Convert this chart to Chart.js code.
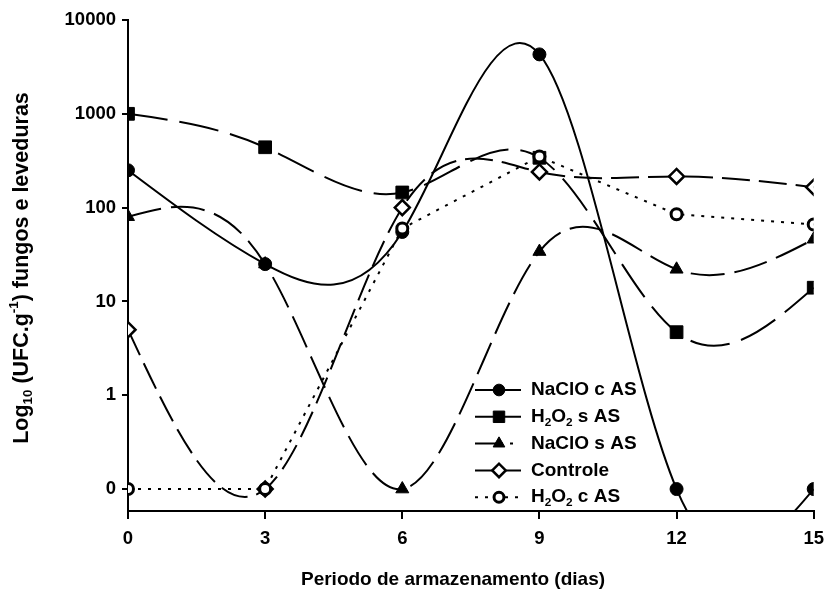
<!DOCTYPE html>
<html>
<head>
<meta charset="utf-8">
<script src="https://cdn.jsdelivr.net/npm/chart.js@4.4.0/dist/chart.umd.min.js"></script>
<style>
body { margin: 0; background: #fff; }
</style>
</head>
<body>
<canvas id="fungosChart" width="833" height="592"></canvas>
<script>
// storage days and UFC/g (0 = not detected)
var dias = [0, 3, 6, 9, 12, 15];
var naclo_c_as = [250, 25, 55, 4300, 0, 0];
var h2o2_s_as = [1000, 440, 145, 340, 4.7, 14];
var naclo_s_as = [80, 25, 0, 34, 22, 46];
var controle = [5, 0, 100, 240, 215, 165];
var h2o2_c_as = [0, 0, 60, 350, 85, 66];

var yTickPos = [-1, 0, 1, 2, 3, 4];
var yTickLabels = ['0', '1', '10', '100', '1000', '10000'];
var xTicks = [0, 3, 6, 9, 12, 15];

var FONT = '"Liberation Sans", Arial, sans-serif';

// log10 scale, zero counts drawn on the lowest line
function toLog(v) { return v > 0 ? Math.log10(v) : -1; }
function pts(values) {
    return dias.map(function (d, i) { return { x: d, y: toLog(values[i]) }; });
}

function serie(label, values, opts) {
    var ds = {
        label: label,
        data: pts(values),
        borderColor: '#000',
        borderWidth: 2,
        tension: 0.4,
        pointBorderColor: '#000',
        pointBackgroundColor: '#000',
        pointBorderWidth: 1,
        fill: false
    };
    for (var k in opts) ds[k] = opts[k];
    return ds;
}

var datasets = [
    serie('NaClO c AS', naclo_c_as, { pointStyle: 'circle', pointRadius: 6.5, legendDash: [] }),
    serie('H2O2 s AS', h2o2_s_as, { borderDash: [40, 12], pointStyle: 'rect', pointRadius: 9, legendDash: [] }),
    serie('NaClO s AS', naclo_s_as, { borderDash: [34, 10], pointStyle: 'triangle', pointRadius: 7.5, legendDash: [28, 7, 3, 40] }),
    serie('Controle', controle, { borderDash: [28, 9], pointStyle: 'rectRot', pointRadius: 7.5, pointBackgroundColor: '#fff', pointBorderWidth: 2.5, legendDash: [] }),
    serie('H2O2 c AS', h2o2_c_as, { order: -1, tension: 0, borderDash: [3, 7], pointStyle: 'circle', pointRadius: 5.5, pointBackgroundColor: '#fff', pointBorderWidth: 3, legendDash: [3, 7] })
];

// natural cubic spline through the point elements, written as bezier control points
function naturalSpline(points) {
    var n = points.length, i;
    if (n < 3) return;
    var h = [];
    for (i = 0; i < n - 1; i++) h.push(points[i + 1].x - points[i].x);
    var a = [], b = [], c = [], d = [];
    for (i = 1; i < n - 1; i++) {
        a.push(h[i - 1]);
        b.push(2 * (h[i - 1] + h[i]));
        c.push(h[i]);
        d.push(6 * ((points[i + 1].y - points[i].y) / h[i] - (points[i].y - points[i - 1].y) / h[i - 1]));
    }
    var m = n - 2;
    for (i = 1; i < m; i++) {
        var w = a[i] / b[i - 1];
        b[i] -= w * c[i - 1];
        d[i] -= w * d[i - 1];
    }
    var M = [];
    for (i = 0; i < n; i++) M.push(0);
    for (i = m - 1; i >= 0; i--) {
        M[i + 1] = (d[i] - (i < m - 1 ? c[i] * M[i + 2] : 0)) / b[i];
    }
    for (i = 0; i < n - 1; i++) {
        var p0 = points[i], p1 = points[i + 1], hi = h[i];
        var sl = (p1.y - p0.y) / hi;
        var s0 = sl - hi * (2 * M[i] + M[i + 1]) / 6;
        var s1 = sl + hi * (M[i] + 2 * M[i + 1]) / 6;
        p0.cp2x = p0.x + hi / 3;
        p0.cp2y = p0.y + s0 * hi / 3;
        p1.cp1x = p1.x - hi / 3;
        p1.cp1y = p1.y - s1 * hi / 3;
    }
    points[0].cp1x = points[0].x; points[0].cp1y = points[0].y;
    points[n - 1].cp2x = points[n - 1].x; points[n - 1].cp2y = points[n - 1].y;
}

var splinePlugin = {
    id: 'splinePlugin',
    beforeDatasetsDraw: function (chart) {
        chart.data.datasets.forEach(function (ds, k) {
            if (!ds.tension) return;
            var meta = chart.getDatasetMeta(k);
            naturalSpline(meta.data);
            meta.dataset._pointsUpdated = true;
            meta.dataset._path = undefined;
        });
    }
};

// text with sub/superscripts: parts = [[text, null|'sub'|'sup'], ...]
function drawRich(ctx, parts, x, y, size, align) {
    var small = size * 0.62;
    var w = 0;
    parts.forEach(function (p) {
        ctx.font = 'bold ' + (p[1] ? small : size) + 'px ' + FONT;
        w += ctx.measureText(p[0]).width;
    });
    var cx = align === 'center' ? x - w / 2 : x;
    parts.forEach(function (p) {
        ctx.font = 'bold ' + (p[1] ? small : size) + 'px ' + FONT;
        var dy = p[1] === 'sub' ? size * 0.3 : (p[1] === 'sup' ? -size * 0.36 : 0);
        ctx.fillText(p[0], cx, y + dy);
        cx += ctx.measureText(p[0]).width;
    });
}

var legendText = [
    [['NaClO c AS', null]],
    [['H', null], ['2', 'sub'], ['O', null], ['2', 'sub'], [' s AS', null]],
    [['NaClO s AS', null]],
    [['Controle', null]],
    [['H', null], ['2', 'sub'], ['O', null], ['2', 'sub'], [' c AS', null]]
];

var extras = {
    id: 'extras',
    afterDraw: function (chart) {
        var ctx = chart.ctx;
        ctx.save();
        ctx.fillStyle = '#000';
        ctx.textBaseline = 'middle';

        // x title
        drawRich(ctx, [['Periodo de armazenamento (dias)', null]], 453, 580, 19, 'center');

        // y title
        ctx.save();
        ctx.translate(22, 268);
        ctx.rotate(-Math.PI / 2);
        drawRich(ctx, [['Log', null], ['10', 'sub'], [' (UFC.g', null], ['-1', 'sup'], [') fungos e leveduras', null]], 0, 0, 21.5, 'center');
        ctx.restore();

        // legend
        datasets.forEach(function (ds, i) {
            var y = 390 + i * 26.8;
            ctx.save();
            ctx.strokeStyle = '#000';
            ctx.lineWidth = 2;
            ctx.setLineDash(ds.legendDash);
            ctx.beginPath();
            ctx.moveTo(475, y);
            ctx.lineTo(521, y);
            ctx.stroke();
            ctx.setLineDash([]);
            ctx.fillStyle = ds.pointBackgroundColor;
            ctx.strokeStyle = '#000';
            ctx.lineWidth = ds.pointBorderWidth;
            Chart.helpers.drawPoint(ctx, { pointStyle: ds.pointStyle, radius: ds.pointRadius * 0.9, borderWidth: ds.pointBorderWidth, rotation: 0 }, 499, y);
            ctx.restore();
            ctx.fillStyle = '#000';
            drawRich(ctx, legendText[i], 531, y, 19, 'left');
        });
        ctx.restore();
    }
};

var ctx_fungos = document.getElementById('fungosChart').getContext('2d');
var chart_fungos = new Chart(ctx_fungos, {
    type: 'line',
    data: { datasets: datasets },
    plugins: [splinePlugin, extras],
    options: {
        responsive: false,
        animation: false,
        devicePixelRatio: 1,
        layout: { padding: { top: 20, right: 18, left: 0, bottom: 0 } },
        plugins: {
            legend: { display: false },
            tooltip: { enabled: false }
        },
        scales: {
            x: {
                type: 'linear',
                min: 0,
                max: 15,
                afterFit: function (s) { s.height = 81; },
                afterBuildTicks: function (s) { s.ticks = xTicks.map(function (v) { return { value: v }; }); },
                border: { display: true, color: '#000', width: 2 },
                grid: { drawOnChartArea: false, drawTicks: true, tickLength: 8, color: '#000', lineWidth: 2 },
                ticks: { color: '#000', padding: 9, font: { family: FONT, size: 18.5, weight: 'bold' } }
            },
            y: {
                type: 'linear',
                min: -1.234,
                max: 4,
                afterFit: function (s) { s.width = 128; },
                afterBuildTicks: function (s) { s.ticks = yTickPos.map(function (v) { return { value: v }; }); },
                border: { display: true, color: '#000', width: 2 },
                grid: { drawOnChartArea: false, drawTicks: true, tickLength: 6, color: '#000', lineWidth: 2 },
                ticks: {
                    color: '#000',
                    padding: 6,
                    font: { family: FONT, size: 18.5, weight: 'bold' },
                    callback: function (value) {
                        var i = yTickPos.indexOf(value);
                        return i >= 0 ? yTickLabels[i] : '';
                    }
                }
            }
        }
    }
});
</script>
</body>
</html>
